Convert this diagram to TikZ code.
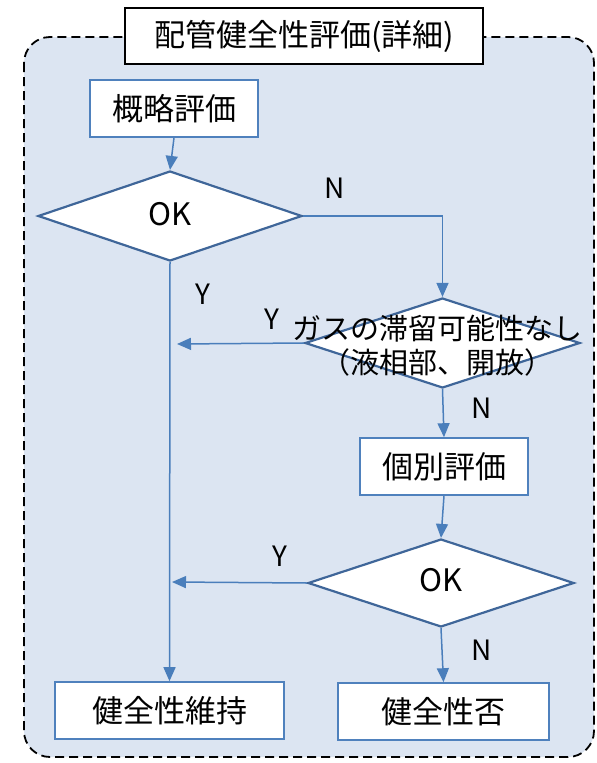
\documentclass[tikz,border=0pt]{standalone}
\usepackage{fontspec}
\setmainfont{Noto Sans CJK JP}
\usetikzlibrary{arrows.meta,shapes.geometric,calc}
\definecolor{bgblue}{HTML}{DCE5F2}
\definecolor{boxblue}{HTML}{4F81BD}
\definecolor{diablue}{HTML}{3F6699}
\definecolor{arrblue}{HTML}{4A7EBB}
\begin{document}
\begin{tikzpicture}[x=1pt,y=-1pt,
  txt/.style={font=\fontsize{31}{34}\selectfont},
  midtxt/.style={font=\fontsize{29}{34}\selectfont},
  smalltxt/.style={font=\fontsize{28}{32}\selectfont},
  procbox/.style={draw=boxblue,line width=1.6pt,fill=white,inner sep=0pt,txt},
  decision/.style={diamond,draw=diablue,line width=2.2pt,fill=white,inner sep=0pt,aspect=2.9},
  conn/.style={draw=arrblue,line width=1.5pt},
  arr/.style={conn,-{Triangle[length=14pt,width=12pt]}},
  lab/.style={smalltxt,inner sep=0pt}
]
\useasboundingbox (0,0) rectangle (597,763);
\draw[dashed,line width=1.8pt,dash pattern=on 9pt off 5pt,fill=bgblue,rounded corners=26pt] (24,37) rectangle (594,757);
\node[draw=black,line width=1.4pt,fill=white,minimum width=358pt,minimum height=56pt,inner sep=0pt,txt] (title) at (304,36) {配管健全性評価(詳細)};

\node[procbox,minimum width=168pt,minimum height=57pt] (gaiyaku) at (174,108.5) {概略評価};
\node[decision,minimum width=264pt,minimum height=90pt] (ok1) at (170,216) {};
\node[txt] at (170,214) {OK};

\node[decision,minimum width=275pt,minimum height=90pt] (gas) at (442.5,343) {};
\node[midtxt,align=center,inner sep=0pt] (gastxt) at (437,346) {ガスの滞留可能性なし\\（液相部、開放）};

\node[procbox,minimum width=168pt,minimum height=57pt] (kobetsu) at (444,466.5) {個別評価};
\node[decision,minimum width=266pt,minimum height=88pt] (ok2) at (441,583) {};
\node[txt] at (441,580) {OK};

\node[procbox,minimum width=229pt,minimum height=57pt] (iji) at (169.5,710.5) {健全性維持};
\node[procbox,minimum width=211pt,minimum height=57pt] (hi) at (443.5,711.5) {健全性否};

\coordinate (j1) at (177,344);
\coordinate (j2) at (172,582);

\draw[arr] (gaiyaku.south) -- (ok1.north);
\draw[arr] (ok1.east) -| (gas.north);
\draw[arr] (ok1.south) -- (iji.north);
\draw[arr] (gas.west) -- (j1);
\draw[arr] (gas.south) -- (kobetsu.north);
\draw[arr] (kobetsu.south) -- (ok2.north);
\draw[arr] (ok2.west) -- (j2);
\draw[arr] (ok2.south) -- (hi.north);

\node[lab] at (335,188) {N};
\node[lab] at (203,294) {Y};
\node[lab] at (272,319) {Y};
\node[lab] at (482,408) {N};
\node[lab] at (280,556) {Y};
\node[lab] at (482,650) {N};
\end{tikzpicture}
\end{document}
